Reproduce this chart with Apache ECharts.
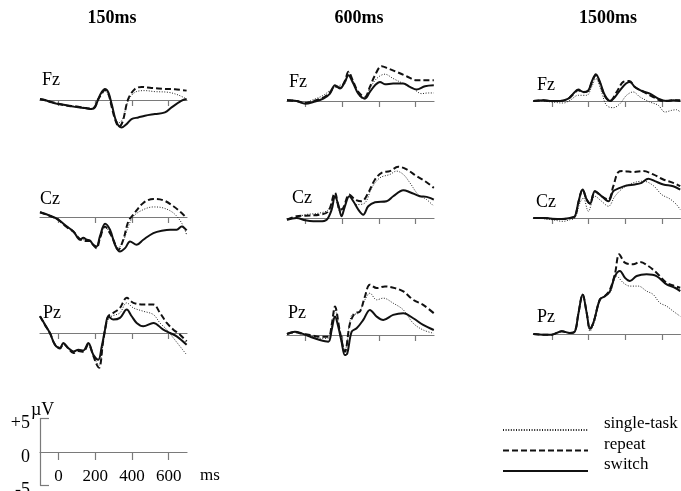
<!DOCTYPE html>
<html>
<head>
<meta charset="utf-8">
<script src="https://cdn.jsdelivr.net/npm/echarts@6/dist/echarts.min.js"></script>
<style>
  html, body { margin: 0; padding: 0; background: #fff; }
  #chart { width: 681px; height: 491px; }
</style>
</head>
<body>
<div id="chart"></div>
<script>
// Grand-average ERP waveforms ([ms, µV]) for three conditions, three electrodes, three intervals.
const intervals = ['150ms', '600ms', '1500ms'];
const electrodes = ['Fz', 'Cz', 'Pz'];
const conditions = ['single-task', 'repeat', 'switch'];
const timeTicks = [0, 200, 400, 600];
const voltTicks = [5, 0, -5];

// 150 ms
const fz150Single = [[-100,0.15],[-73,0],[-37,-0.3],[0,-0.55],[36,-0.7],[72,-0.9],[108,-1.0],[145,-1.1],[181,-1.25],[199,-1.0],[217,0.1],[235,1.0],[253,1.4],[272,0.8],[290,-0.9],[310,-2.8],[330,-3.4],[350,-2.8],[380,-0.1],[417,1.15],[471,1.4],[525,1.25],[598,1.15],[652,0.75],[698,0.15]];
const fz150Repeat = [[-100,0.1],[-73,-0.05],[-37,-0.3],[0,-0.55],[36,-0.8],[72,-0.9],[108,-1.0],[145,-1.2],[181,-1.3],[199,-1.0],[217,0.1],[235,0.9],[253,1.5],[272,0.9],[290,-1.0],[310,-3.0],[330,-4.0],[350,-3.2],[380,0.15],[417,1.65],[453,1.95],[507,1.8],[580,1.65],[634,1.6],[698,1.4]];
const fz150Switch = [[-100,0.15],[-73,0],[-37,-0.35],[0,-0.6],[36,-0.75],[72,-0.95],[108,-1.1],[145,-1.2],[181,-1.35],[199,-1.1],[217,0.15],[235,1.15],[253,1.65],[272,1.15],[290,-0.6],[317,-3.35],[344,-4.1],[371,-3.6],[398,-2.85],[435,-2.6],[471,-2.35],[525,-2.1],[580,-1.85],[616,-1.1],[671,-0.1],[698,0.15]];
const cz150Single = [[-100,0.7],[-46,0.15],[0,-0.4],[45,-1.4],[82,-2.2],[118,-3.2],[154,-3.5],[172,-3.6],[190,-4.2],[208,-4.5],[226,-3.2],[254,-1.5],[280,-2.3],[299,-3.3],[326,-4.6],[353,-3.6],[381,-1.4],[408,0.1],[462,1.1],[517,1.5],[571,1.35],[626,0.6],[671,-0.9],[698,-2.65]];
const cz150Repeat = [[-100,0.7],[-46,0.15],[0,-0.45],[45,-1.5],[82,-2.2],[118,-3.3],[154,-3.6],[172,-3.6],[190,-4.2],[208,-4.65],[226,-3.2],[254,-1.4],[280,-2.4],[299,-3.4],[326,-4.9],[353,-3.4],[381,-0.65],[408,0.35],[462,2.1],[517,2.7],[571,2.5],[626,1.6],[671,0.6],[698,-0.15]];
const cz150Switch = [[-100,0.7],[-46,0.2],[0,-0.4],[45,-1.4],[82,-2.15],[118,-3.4],[136,-3.1],[154,-3.4],[172,-3.5],[190,-4.15],[208,-4.4],[226,-2.9],[254,-1.0],[281,-1.9],[308,-4.15],[335,-5.15],[363,-4.65],[390,-3.65],[426,-4.15],[462,-3.4],[517,-2.4],[571,-2.0],[608,-1.9],[644,-1.9],[671,-1.4],[698,-2.0]];
const pz150Single = [[-100,2.5],[-73,1.2],[-46,0],[-19,-1.7],[9,-2.2],[27,-1.5],[54,-2.2],[82,-2.9],[109,-2.6],[136,-2.7],[163,-1.6],[190,-3.3],[210,-4.5],[222,-4.8],[245,-1.2],[272,2.2],[299,2.6],[335,3.0],[372,4.5],[408,3.75],[462,3.25],[517,2.75],[553,1.5],[590,0.5],[626,-0.75],[662,-2.0],[698,-3.25]];
const pz150Repeat = [[-100,2.5],[-73,1.2],[-46,0],[-19,-1.7],[9,-2.3],[27,-1.6],[54,-2.3],[82,-3.0],[109,-2.7],[136,-2.8],[163,-1.7],[190,-3.4],[210,-4.8],[222,-5.2],[245,-1.0],[272,2.5],[299,3.0],[335,3.75],[372,5.25],[408,4.5],[462,4.25],[517,4.25],[553,3.0],[590,1.5],[626,0.5],[662,-0.25],[698,-1.25]];
const pz150Switch = [[-100,2.5],[-73,1.25],[-46,0],[-19,-1.75],[9,-2.25],[27,-1.5],[54,-2.25],[82,-2.75],[109,-2.5],[136,-2.6],[163,-1.5],[190,-3.25],[217,-4.0],[236,-2.0],[254,0.5],[272,2.5],[299,2.0],[335,2.25],[372,3.5],[399,2.5],[426,1.5],[462,1.0],[517,1.5],[571,0.5],[608,0],[644,-0.5],[698,-1.75]];

// 600 ms
const fz600Single = [[-100,0.15],[-48,0.05],[0,-0.2],[43,0.2],[98,0.85],[134,1.6],[161,2.1],[188,2.35],[215,2.6],[234,4.35],[261,2.85],[297,0.6],[324,0.35],[351,1.85],[388,3.35],[433,4.0],[478,3.35],[533,2.6],[587,1.85],[632,1.1],[669,1.2],[699,1.2]];
const fz600Repeat = [[-100,0.1],[-48,0],[0,-0.3],[43,0],[98,0.5],[134,1.3],[161,2.2],[188,2.0],[215,3.0],[234,4.35],[261,2.85],[288,1.35],[324,0.6],[351,2.1],[379,3.85],[415,5.2],[451,4.85],[496,4.35],[551,3.7],[605,3.1],[660,3.1],[699,3.1]];
const fz600Switch = [[-100,0.1],[-48,0],[0,-0.4],[43,-0.15],[98,0.35],[134,1.1],[161,2.35],[188,1.85],[215,2.85],[234,3.85],[261,2.6],[288,1.1],[324,0.35],[351,1.35],[379,2.35],[406,2.85],[433,2.5],[478,2.6],[533,2.6],[569,2.1],[605,1.7],[651,2.2],[699,2.35]];
const cz600Single = [[-100,-0.25],[-48,0.1],[0,0.5],[79,0.75],[125,1.25],[161,3.5],[188,1.0],[206,1.3],[239,3.25],[279,2.0],[324,2.25],[361,4.5],[406,6.0],[460,6.5],[496,7.0],[533,6.5],[569,5.25],[614,3.5],[660,2.75],[699,1.75]];
const cz600Repeat = [[-100,-0.25],[-48,0.25],[0,0.35],[79,0.5],[125,1.0],[161,3.75],[188,1.25],[206,1.5],[239,3.5],[270,2.75],[306,2.5],[342,3.75],[379,5.75],[415,6.75],[460,7.0],[505,7.65],[551,7.25],[605,6.25],[651,5.5],[699,4.5]];
const cz600Switch = [[-100,-0.25],[-48,0],[0,-0.35],[43,-0.5],[79,-0.5],[116,-0.25],[143,1.25],[161,3.25],[179,2.0],[197,0.25],[215,1.75],[239,3.25],[261,2.5],[288,1.25],[315,0.5],[342,1.75],[379,2.35],[442,2.5],[478,3.25],[533,4.15],[569,3.85],[623,3.25],[660,3.15],[699,2.75]];
const pz600Single = [[-100,0.15],[-57,0.45],[-20,0.2],[25,-0.1],[79,-0.5],[125,-0.5],[143,1.2],[161,3.75],[188,0.6],[215,-2.25],[252,3.0],[288,3.25],[324,5.25],[351,6.25],[388,5.25],[424,5.5],[478,4.75],[533,3.75],[587,1.75],[641,0.75],[699,0.25]];
const pz600Repeat = [[-100,0.15],[-57,0.4],[-20,0.2],[25,0],[79,-0.25],[125,-0.25],[143,1.5],[161,4.25],[188,0.5],[215,-2.5],[243,1.75],[270,3.25],[297,3.5],[324,5.75],[351,7.5],[388,7.0],[433,7.25],[487,7.0],[533,6.5],[587,5.25],[641,4.5],[699,3.25]];
const pz600Switch = [[-100,0.15],[-57,0.5],[-20,0.25],[25,-0.25],[79,-0.75],[125,-1.0],[143,0.75],[161,2.75],[179,1.25],[197,-1.0],[215,-3.0],[228,-2.75],[252,0.5],[279,1.0],[315,2.25],[351,3.75],[388,2.75],[424,2.25],[478,3.0],[533,3.25],[587,2.5],[641,1.5],[699,0.75]];

// 1500 ms
const fz1500Single = [[-100,0],[-46,0],[0,-0.15],[63,-0.3],[99,0.1],[144,0.85],[190,0.85],[217,2.1],[240,3.35],[271,1.35],[298,-0.65],[335,-1.0],[371,-0.4],[407,0.85],[443,1.35],[480,0.6],[534,-0.15],[580,-0.65],[616,-1.65],[652,-1.4],[679,-1.3],[699,-1.65]];
const fz1500Repeat = [[-100,0],[-46,0.1],[0,0],[45,0],[90,0.35],[117,1.0],[144,1.6],[172,1.3],[199,1.5],[217,2.7],[240,3.85],[262,2.7],[289,0.7],[317,0],[353,1.35],[389,2.85],[422,3.0],[452,2.1],[498,1.4],[552,0.6],[607,0],[661,0.1],[699,0.1]];
const fz1500Switch = [[-100,0],[-46,0.1],[0,0],[45,0],[90,0.35],[117,1.1],[144,1.7],[172,1.35],[199,1.6],[217,2.85],[240,4.0],[262,2.85],[289,0.85],[317,0],[344,0.6],[371,1.6],[404,2.6],[425,2.85],[452,2.1],[489,1.5],[534,1.1],[580,0.35],[625,0],[661,0.1],[699,0]];
const cz1500Single = [[-100,0],[-46,-0.1],[0,-0.25],[63,-0.5],[99,-0.25],[126,0],[153,2.25],[172,3.0],[199,1.0],[235,3.25],[271,2.5],[308,1.75],[344,3.25],[389,4.5],[443,5.25],[498,5.5],[552,4.85],[598,3.5],[643,2.85],[679,2.0],[699,1.25]];
const cz1500Repeat = [[-100,0],[-46,0],[0,-0.1],[54,-0.15],[99,0],[126,0.25],[144,2.25],[168,4.25],[190,2.75],[208,2.15],[235,4.0],[271,3.25],[308,2.75],[335,4.75],[362,6.85],[389,7.0],[443,6.85],[498,7.0],[552,6.5],[607,5.75],[661,5.25],[699,4.75]];
const cz1500Switch = [[-100,0],[-46,0],[0,-0.1],[54,-0.15],[99,0],[126,0.25],[144,2.25],[168,4.25],[190,2.75],[208,2.15],[235,4.0],[271,3.25],[308,2.5],[335,4.0],[371,4.5],[407,4.85],[452,5.0],[489,5.25],[525,5.85],[561,5.5],[607,5.0],[661,4.75],[699,4.25]];
const pz1500Single = [[-100,0],[-46,-0.1],[0,-0.1],[54,0.4],[99,0.15],[126,0.4],[144,2.9],[168,5.9],[190,3.15],[208,0.4],[229,1.5],[262,5.15],[289,5.6],[317,6.15],[353,8.65],[389,7.65],[425,7.15],[471,7.15],[516,6.4],[552,5.9],[588,4.65],[625,4.15],[661,3.4],[699,2.65]];
const pz1500Repeat = [[-100,0],[-46,-0.1],[0,-0.1],[54,0.4],[99,0.15],[126,0.4],[144,2.9],[168,5.9],[190,3.15],[208,0.75],[229,1.9],[262,5.15],[289,5.65],[317,6.65],[344,9.0],[367,11.9],[398,10.65],[443,10.4],[480,10.75],[525,10.15],[570,9.15],[625,7.65],[670,7.15],[699,6.9]];
const pz1500Switch = [[-100,0],[-46,-0.1],[0,-0.1],[54,0.4],[99,0.15],[126,0.4],[144,2.9],[168,5.9],[190,3.15],[208,0.75],[229,1.9],[262,5.15],[289,5.65],[317,6.4],[344,8.65],[371,9.4],[398,8.4],[425,7.9],[462,8.65],[516,8.9],[570,8.65],[625,7.4],[670,6.9],[699,6.4]];

const panelData = [
  [[fz150Single, fz150Repeat, fz150Switch], [cz150Single, cz150Repeat, cz150Switch], [pz150Single, pz150Repeat, pz150Switch]],
  [[fz600Single, fz600Repeat, fz600Switch], [cz600Single, cz600Repeat, cz600Switch], [pz600Single, pz600Repeat, pz600Switch]],
  [[fz1500Single, fz1500Repeat, fz1500Switch], [cz1500Single, cz1500Repeat, cz1500Switch], [pz1500Single, pz1500Repeat, pz1500Switch]]
];

// Layout
const FONT = '"Liberation Serif", "Times New Roman", serif';
const PX_PER_UV = 6.7;
const Y_MIN = -6, Y_MAX = 12;
const colLeft = [40, 287, 533.4];
const colWidth = 147;
const rowBase = [[100, 217, 333], [101, 218, 335], [101, 218, 334]];
const titleX = [112, 359, 608];
const labelPos = [
  [[42, 80], [40, 199], [43, 313]],
  [[289, 82], [292, 198], [288, 313]],
  [[537, 85], [536, 202], [537, 317]]
];

const lineStyles = [
  { color: '#222', width: 1, type: [1, 1.6] },
  { color: '#111', width: 2, type: [6, 3] },
  { color: '#111', width: 2, type: 'solid' }
];
const AXIS_COLOR = '#7a7a7a';

const grids = [], xAxes = [], yAxes = [], series = [], graphics = [];

intervals.forEach((title, c) => {
  graphics.push({
    type: 'text', x: titleX[c], y: 18,
    style: { text: title, font: 'bold 18px ' + FONT, fill: '#000', align: 'center', verticalAlign: 'middle' }
  });
  electrodes.forEach((el, r) => {
    const idx = grids.length;
    const base = rowBase[c][r];
    grids.push({
      left: colLeft[c], width: colWidth,
      top: base - Y_MAX * PX_PER_UV, height: (Y_MAX - Y_MIN) * PX_PER_UV,
      outerBoundsMode: 'none'
    });
    xAxes.push({
      gridIndex: idx, type: 'value', min: -100, max: 700,
      axisLine: { onZero: true, lineStyle: { color: AXIS_COLOR, width: 1.2 } },
      axisTick: { customValues: timeTicks, length: 6, lineStyle: { color: AXIS_COLOR, width: 1.2 } },
      axisLabel: { show: false }, splitLine: { show: false }
    });
    yAxes.push({
      gridIndex: idx, type: 'value', min: Y_MIN, max: Y_MAX,
      show: false
    });
    graphics.push({
      type: 'text', left: labelPos[c][r][0], top: labelPos[c][r][1] - 9,
      style: { text: el, font: '18px ' + FONT, fill: '#000' }
    });
    conditions.forEach((name, k) => {
      series.push({
        type: 'line', name, xAxisIndex: idx, yAxisIndex: idx,
        data: panelData[c][r][k], symbol: 'none', smooth: 0.35,
        color: '#111', itemStyle: { color: '#111' },
        lineStyle: lineStyles[k], z: 3 + k, silent: true
      });
    });
  });
});

// Calibration bar: 5 µV and 200 ms
const scaleIdx = grids.length;
const scaleHalf = 5 * PX_PER_UV;
grids.push({ left: 40, width: 147, top: 452 - scaleHalf, height: 2 * scaleHalf, outerBoundsMode: 'none' });
xAxes.push({
  gridIndex: scaleIdx, type: 'value', min: -100, max: 700, position: 'bottom', offset: -scaleHalf,
  axisLine: { onZero: false, lineStyle: { color: AXIS_COLOR, width: 1.2 } },
  axisTick: { customValues: timeTicks, length: 8, lineStyle: { color: AXIS_COLOR, width: 1.2 } },
  axisLabel: { show: true, customValues: timeTicks, margin: 16, fontFamily: FONT, fontSize: 17, color: '#000' },
  splitLine: { show: false }
});
yAxes.push({
  gridIndex: scaleIdx, type: 'value', min: -5, max: 5,
  axisLine: { show: true, onZero: false, lineStyle: { color: AXIS_COLOR, width: 1.2 } },
  axisTick: { show: true, customValues: [-5, 5], inside: true, length: 9, lineStyle: { color: AXIS_COLOR, width: 1.2 } },
  axisLabel: {
    customValues: voltTicks, margin: 10, fontFamily: FONT, fontSize: 18, color: '#000',
    verticalAlign: 'top', lineHeight: 10,
    formatter: v => (v > 0 ? '+' + v : String(v))
  },
  splitLine: { show: false }
});
graphics.push(
  { type: 'text', left: 31, top: 401, style: { text: 'µV', font: '18px ' + FONT, fill: '#000' } },
  { type: 'text', left: 200, top: 467, style: { text: 'ms', font: '17px ' + FONT, fill: '#000' } }
);

const chart = echarts.init(document.getElementById('chart'), null, { renderer: 'canvas' });
chart.setOption({
  animation: false,
  backgroundColor: '#fff',
  grid: grids,
  xAxis: xAxes,
  yAxis: yAxes,
  series,
  legend: {
    data: conditions, orient: 'vertical', left: 502, top: 415.5, padding: 0,
    itemWidth: 85, itemHeight: 14, itemGap: -8.5,
    itemStyle: { opacity: 0 },
    formatter: name => '{t|' + name + '}',
    textStyle: {
      color: '#000', padding: [0, 0, 0, 11],
      rich: { t: { fontFamily: FONT, fontSize: 17, lineHeight: 17, color: '#000', padding: [0, 0, 12, 0] } }
    },
    selectedMode: false
  },
  graphic: graphics
});
</script>
</body>
</html>
